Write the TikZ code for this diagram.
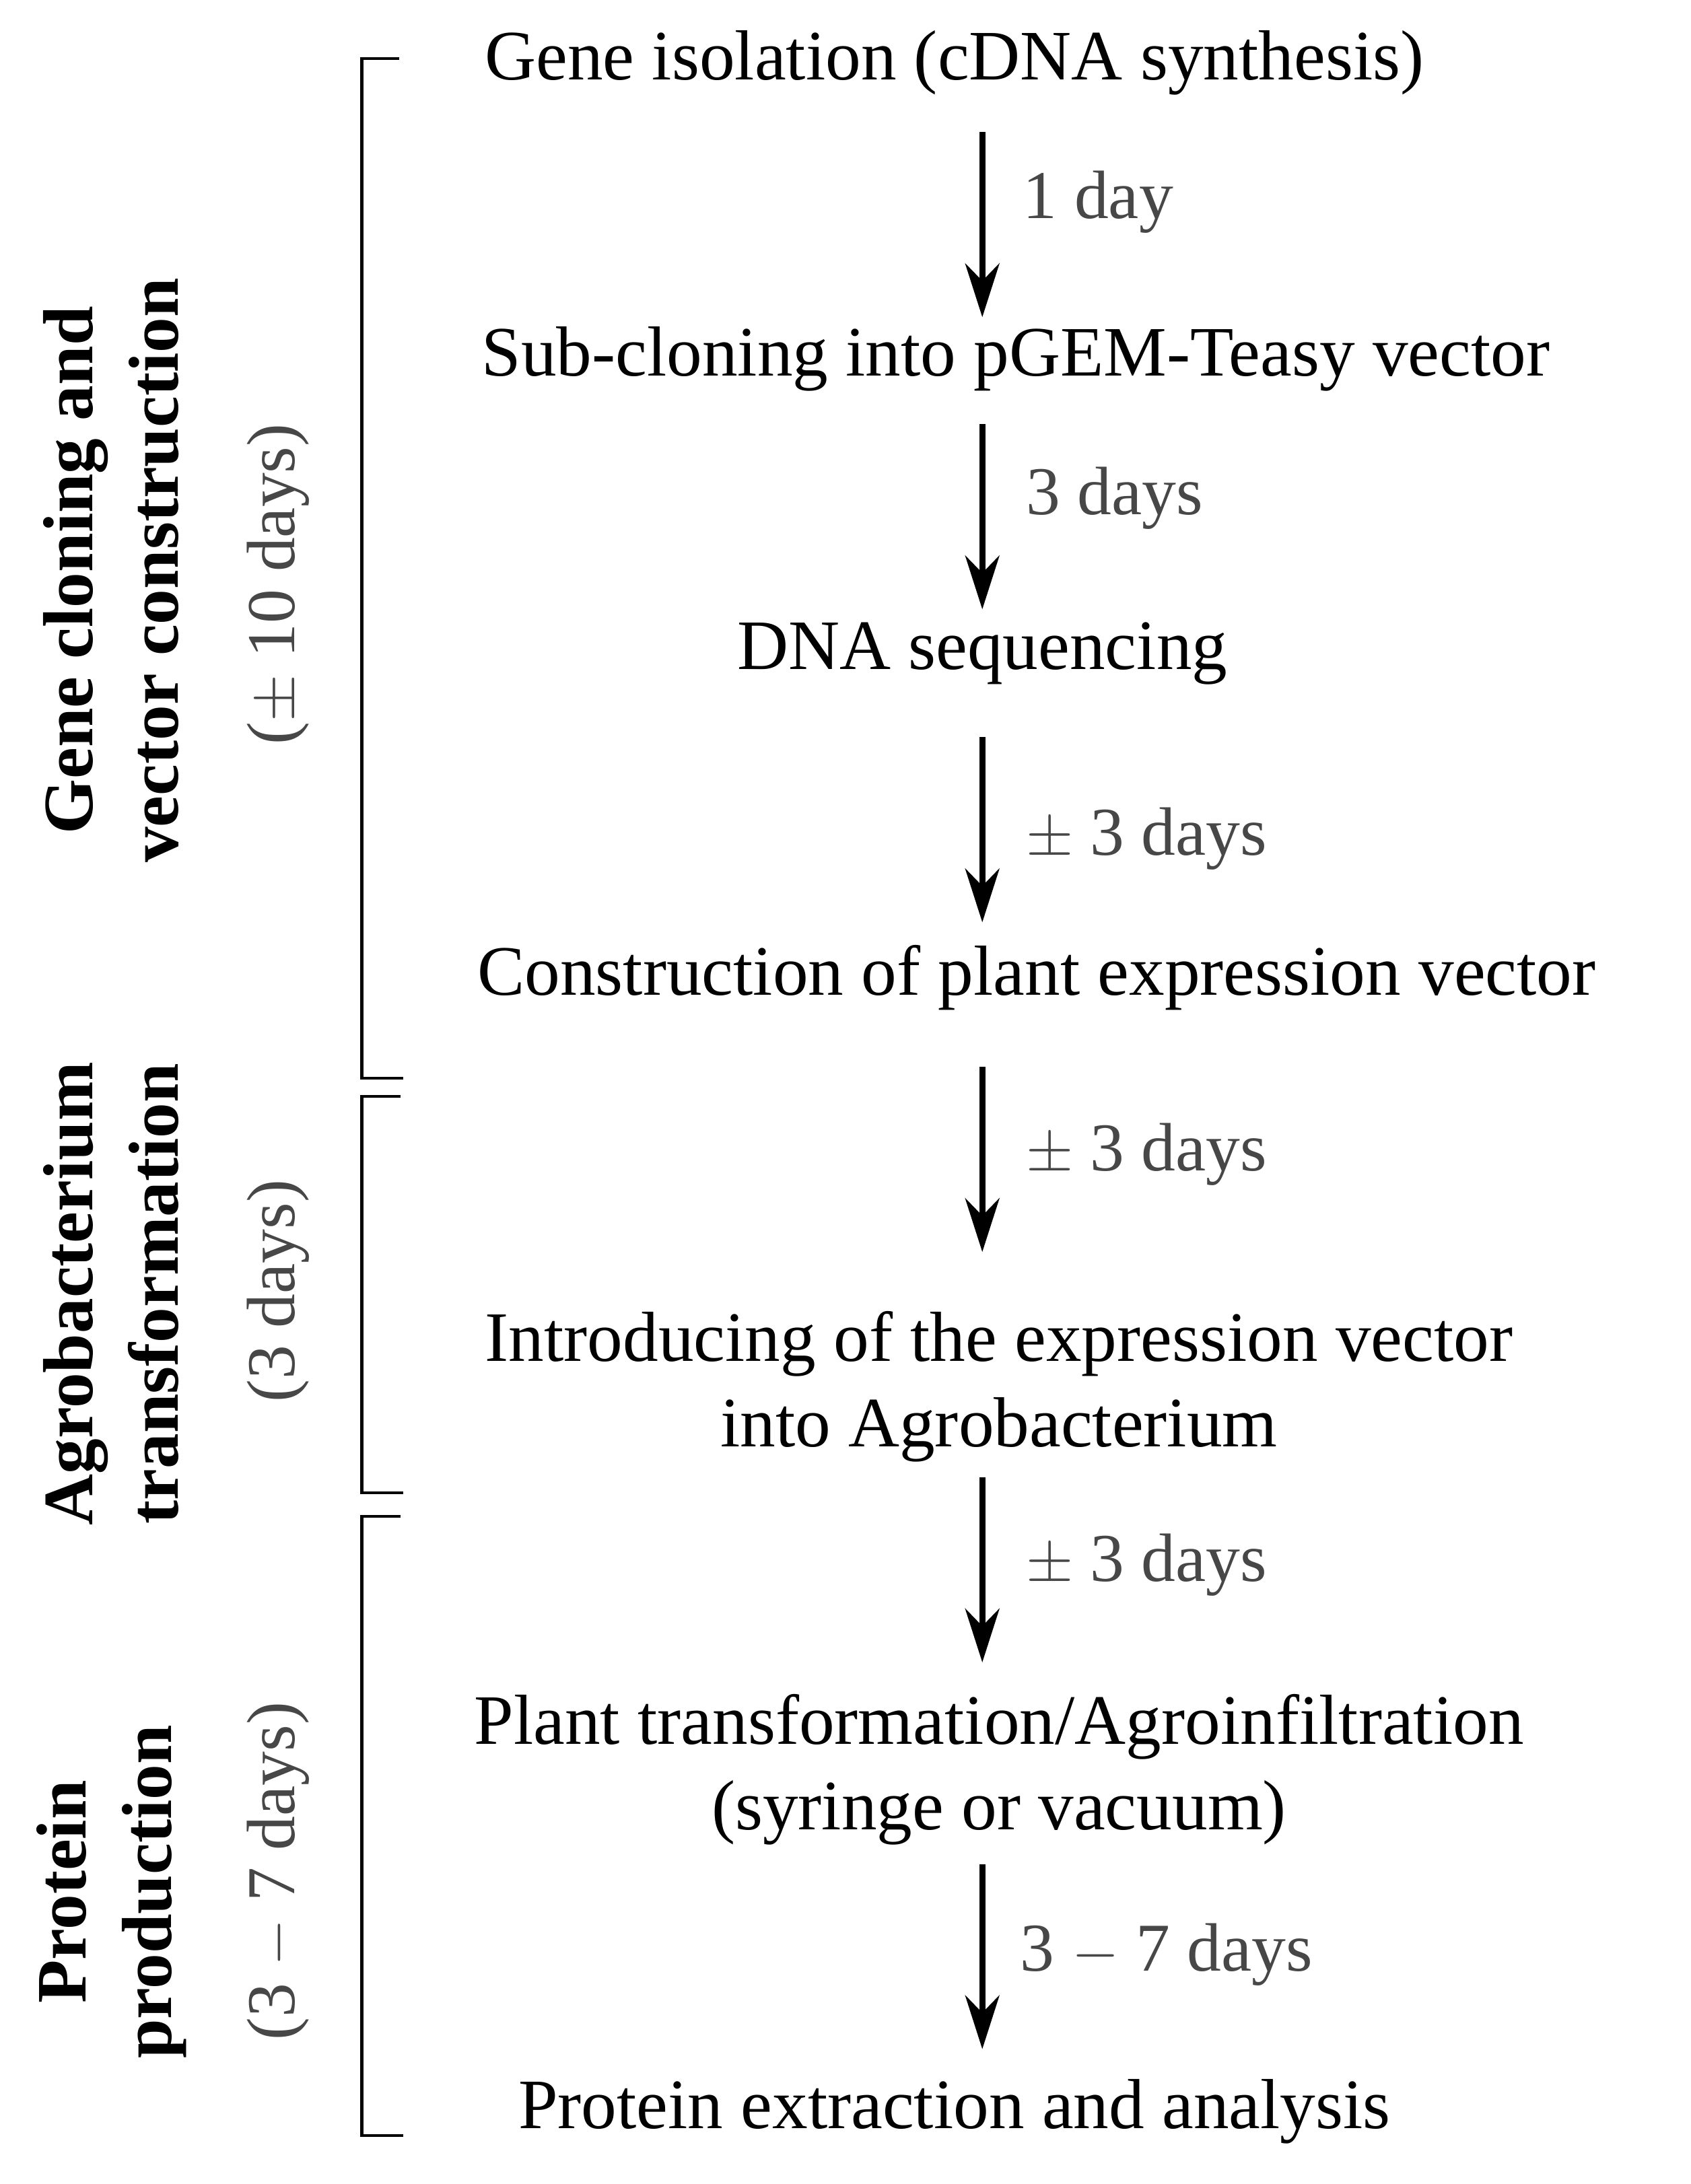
\documentclass[tikz,border=0pt]{standalone}
\usepackage{fontspec}
\setmainfont{Liberation Serif}
\usetikzlibrary{arrows.meta}
\begin{document}
\begin{tikzpicture}[x=0.02cm,y=-0.02cm,
  stepbox/.style={font=\fontsize{29}{35}\selectfont,align=center,inner sep=0pt},
  dur/.style={font=\fontsize{28}{34}\selectfont,text=black!72,anchor=west,inner sep=0pt},
  side/.style={font=\bfseries\fontsize{29}{35}\selectfont,rotate=90,inner sep=0pt},
  sidedur/.style={font=\fontsize{28}{34}\selectfont,text=black!72,rotate=90,inner sep=0pt},
  flow/.style={line width=2.4pt,-{Stealth[length=22pt,width=14pt]}},
  brk/.style={line width=1.2pt}]
\useasboundingbox (0,0) rectangle (1215,1570);
\node[stepbox] (s1) at (686,45) {Gene isolation (cDNA synthesis)};
\node[stepbox] (s2) at (730,258) {Sub-cloning into pGEM-Teasy vector};
\node[stepbox] (s3) at (706,470) {DNA sequencing};
\node[stepbox] (s4) at (745,703) {Construction of plant expression vector};
\node[stepbox] (s5) at (718,997) {Introducing of the expression vector\\into Agrobacterium};
\node[stepbox] (s6) at (718,1272) {Plant transformation/Agroinfiltration\\(syringe or vacuum)};
\node[stepbox] (s7) at (686,1518) {Protein extraction and analysis};
\coordinate (a1) at (706,95); \coordinate (b1) at (706,228);
\coordinate (a2) at (706,305); \coordinate (b2) at (706,438);
\coordinate (a3) at (706,530); \coordinate (b3) at (706,663);
\coordinate (a4) at (706,767); \coordinate (b4) at (706,900);
\coordinate (a5) at (706,1062); \coordinate (b5) at (706,1195);
\coordinate (a6) at (706,1340); \coordinate (b6) at (706,1473);
\draw[flow] (a1) -- (b1); \draw[flow] (a2) -- (b2); \draw[flow] (a3) -- (b3);
\draw[flow] (a4) -- (b4); \draw[flow] (a5) -- (b5); \draw[flow] (a6) -- (b6);
\node[dur] (d1) at (735,145) {1 day};
\node[dur] (d2) at (737,358) {3 days};
\node[dur] (d3) at (737,603) {$\pm$ 3 days};
\node[dur] (d4) at (737,830) {$\pm$ 3 days};
\node[dur] (d5) at (737,1125) {$\pm$ 3 days};
\node[dur] (d6) at (733,1405) {3 $-$ 7 days};
\draw[brk] (287,42) -- (260,42) -- (260,775) -- (290,775);
\draw[brk] (288,788) -- (260,788) -- (260,1073) -- (290,1073);
\draw[brk] (288,1090) -- (260,1090) -- (260,1535) -- (290,1535);
\node[side,align=center] (l1) at (80,410) {Gene cloning and\\vector construction};
\node[sidedur] (p1) at (200,420) {($\pm$ 10 days)};
\node[side,align=center] (l2) at (80,930) {Agrobacterium\\transformation};
\node[sidedur] (p2) at (200,928) {(3 days)};
\node[side,align=center] (l3) at (80,1360) {Protein\\production};
\node[sidedur] (p3) at (200,1345) {(3 $-$ 7 days)};
\end{tikzpicture}
\end{document}
